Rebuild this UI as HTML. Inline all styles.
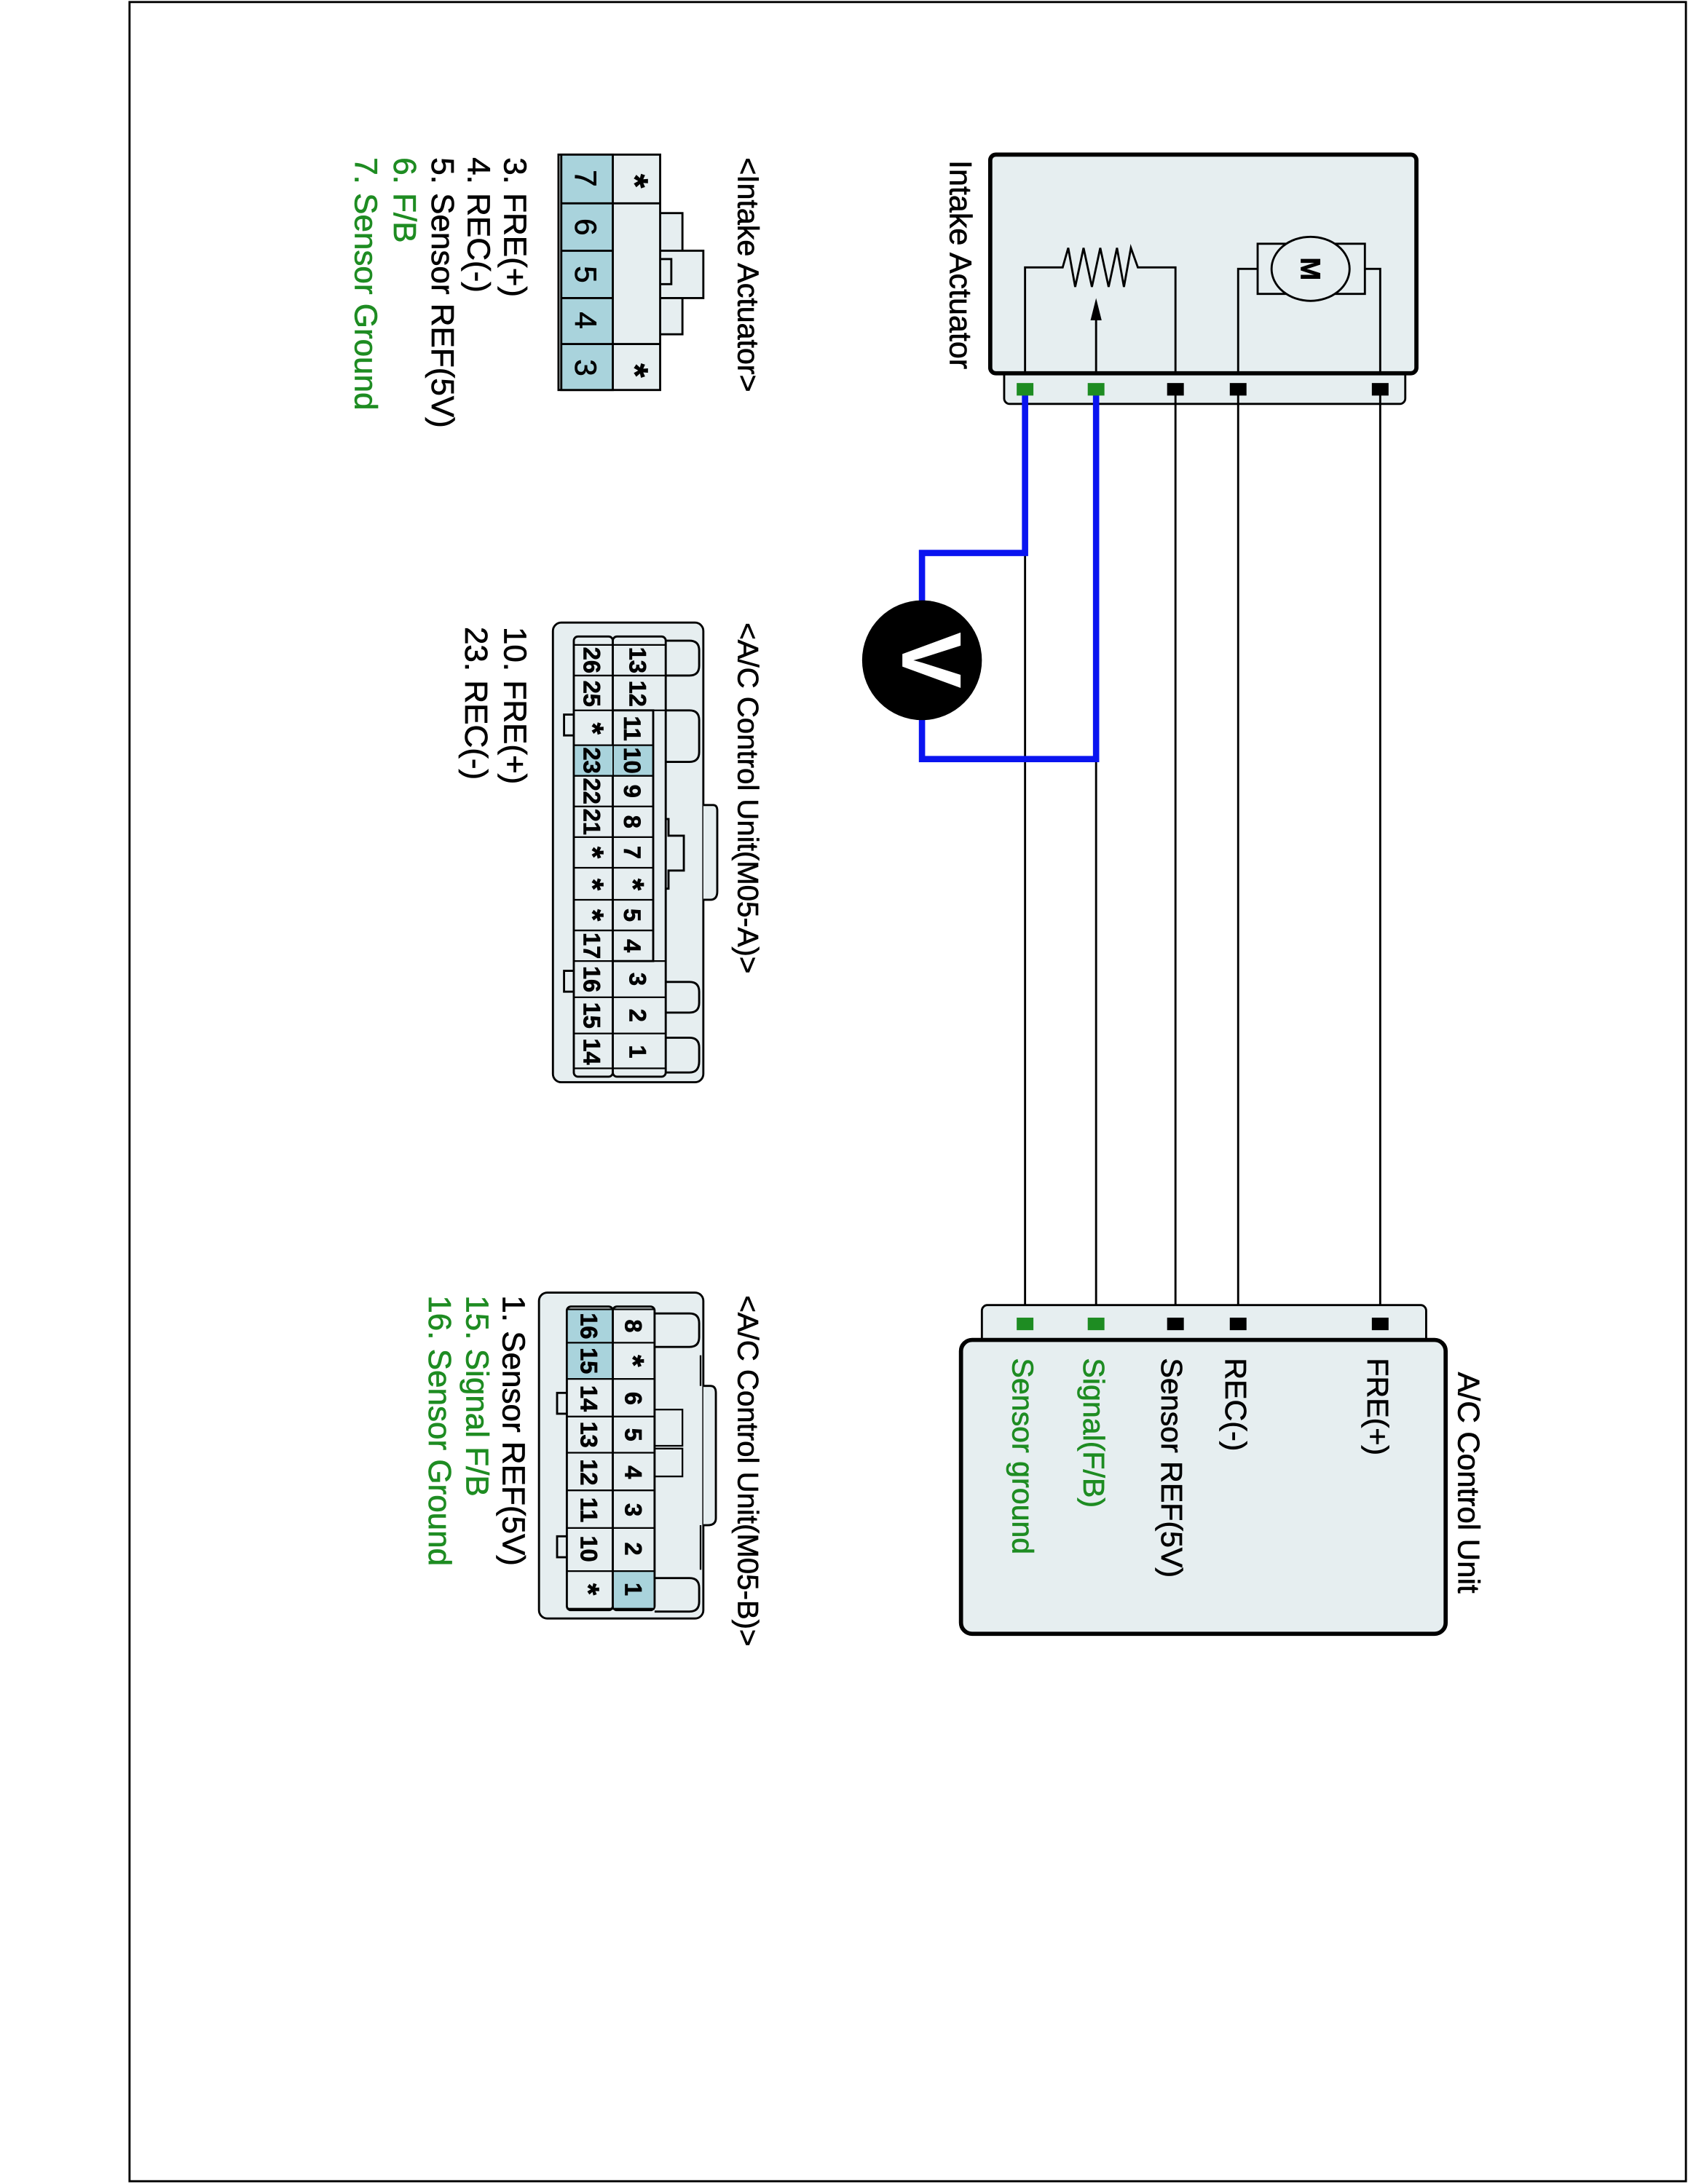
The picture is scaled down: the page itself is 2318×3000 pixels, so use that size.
<!DOCTYPE html>
<html><head><meta charset="utf-8"><style>
html,body{margin:0;padding:0;background:#fff}
svg{display:block}
text{font-family:"Liberation Sans",Arial,sans-serif;stroke:currentColor;stroke-width:0.35}
</style></head><body>
<svg width="2318" height="3000" viewBox="0 0 1212 1568" preserveAspectRatio="none" xmlns="http://www.w3.org/2000/svg" color="#000">
<rect x="0" y="0" width="1212" height="1568" fill="#fff"/>
<path d="M93,1.5 H1210.5 V1566 H93 Z" fill="none" stroke="#000" stroke-width="1.5"/>

<rect x="721" y="262" width="288" height="28" rx="4" fill="#e6eef0" stroke="#000" stroke-width="1.5"/>
<rect x="711" y="111" width="306" height="157" rx="4" fill="#e6eef0" stroke="#000" stroke-width="3"/>
<path d="M736,268 V192 H763 L767,178 L772,206 L778,178 L784,206 L790,178 L796,206 L802,178 L807,206 L812,178 L817,192 H844 V268" fill="none" stroke="#000" stroke-width="1.5"/>
<path d="M787,268 V228" stroke="#000" stroke-width="1.5"/>
<path d="M787,214 L783,230 L791,230 Z" fill="#000"/>
<path d="M889,268 V193 H903 M980,193 H991 V268" fill="none" stroke="#000" stroke-width="1.5"/>
<rect x="903" y="175" width="77" height="36" fill="#e6eef0" stroke="#000" stroke-width="1.5"/>
<ellipse cx="941" cy="193" rx="28" ry="23" fill="#e6eef0" stroke="#000" stroke-width="1.5"/>
<text transform="translate(934,193) rotate(90)" font-size="20" font-weight="bold" text-anchor="middle">M</text>
<text transform="translate(682,115) rotate(90)" font-size="22.5">Intake Actuator</text>

<g stroke="#000" stroke-width="1.5">
<line x1="736" y1="290" x2="736" y2="943"/>
<line x1="787" y1="290" x2="787" y2="943"/>
<line x1="844" y1="283" x2="844" y2="943"/>
<line x1="889" y1="283" x2="889" y2="943"/>
<line x1="991" y1="283" x2="991" y2="943"/>
</g>
<path d="M736,283 V397 H662 V440 M662,510 V545 H787 V283" fill="none" stroke="#0a14f0" stroke-width="4.5"/>
<circle cx="662" cy="474" r="43" fill="#000"/>
<text transform="translate(648,474) rotate(90)" font-size="60" font-weight="bold" fill="#fff" color="#fff" text-anchor="middle">V</text>

<g>
<rect x="730" y="275" width="12" height="9" fill="#1e8c22"/>
<rect x="781" y="275" width="12" height="9" fill="#1e8c22"/>
<rect x="838" y="275" width="12" height="9" fill="#000"/>
<rect x="883" y="275" width="12" height="9" fill="#000"/>
<rect x="985" y="275" width="12" height="9" fill="#000"/>
</g>

<rect x="705" y="937" width="319" height="30" rx="4" fill="#e6eef0" stroke="#000" stroke-width="1.5"/>
<rect x="690" y="962" width="348" height="211" rx="8" fill="#e6eef0" stroke="#000" stroke-width="3"/>
<g>
<rect x="730" y="946" width="12" height="9" fill="#1e8c22"/>
<rect x="781" y="946" width="12" height="9" fill="#1e8c22"/>
<rect x="838" y="946" width="12" height="9" fill="#000"/>
<rect x="883" y="946" width="12" height="9" fill="#000"/>
<rect x="985" y="946" width="12" height="9" fill="#000"/>
</g>
<text transform="translate(1047,985) rotate(90)" font-size="22">A/C Control Unit</text>
<text transform="translate(982,975) rotate(90)" font-size="21.5">FRE(+)</text>
<text transform="translate(880,975) rotate(90)" font-size="21.5">REC(-)</text>
<text transform="translate(834,975) rotate(90)" font-size="21.5">Sensor REF(5V)</text>
<text transform="translate(778,975) rotate(90)" font-size="21.5" fill="#1e8c22" color="#1e8c22">Signal(F/B)</text>
<text transform="translate(727,975) rotate(90)" font-size="21.5" fill="#1e8c22" color="#1e8c22">Sensor ground</text>

<g stroke="#000" stroke-width="1.5" fill="#e6eef0">
<rect x="474" y="153" width="16" height="87"/>
<rect x="474" y="180" width="31" height="34"/>
<rect x="474" y="186" width="8" height="18"/>
<rect x="401" y="111" width="73" height="169"/>
</g>
<g stroke="#000" stroke-width="1.5">
<rect x="403" y="111" width="37" height="169" fill="#a9d3dc"/>
<line x1="403" y1="146" x2="474" y2="146"/>
<line x1="403" y1="180" x2="440" y2="180"/>
<line x1="403" y1="214" x2="440" y2="214"/>
<line x1="403" y1="247" x2="474" y2="247"/>
</g>
<g font-size="22" text-anchor="middle">
<text transform="translate(413,128) rotate(90)">7</text>
<text transform="translate(413,163) rotate(90)">6</text>
<text transform="translate(413,197) rotate(90)">5</text>
<text transform="translate(413,230) rotate(90)">4</text>
<text transform="translate(413,264) rotate(90)">3</text>
<text transform="translate(447,130) rotate(90)" font-weight="bold" font-size="26">*</text>
<text transform="translate(447,266) rotate(90)" font-weight="bold" font-size="26">*</text>
</g>
<text transform="translate(530,113) rotate(90)" font-size="21.5">&lt;Intake Actuator&gt;</text>
<g font-size="23">
<text transform="translate(362,113) rotate(90)">3. FRE(+)</text>
<text transform="translate(336,113) rotate(90)">4. REC(-)</text>
<text transform="translate(310,113) rotate(90)">5. Sensor REF(5V)</text>
<text transform="translate(283,113) rotate(90)" fill="#1e8c22" color="#1e8c22">6. F/B</text>
<text transform="translate(255,113) rotate(90)" fill="#1e8c22" color="#1e8c22">7. Sensor Ground</text>
</g>

<g stroke="#000" stroke-width="1.5" fill="#e6eef0">
<rect x="397" y="447" width="108" height="330" rx="6"/>
<path d="M475,460 H495 Q502,460 502,467 V478 Q502,485 495,485 H478" />
<path d="M475,510 H495 Q502,510 502,517 V540 Q502,547 495,547 H478" />
<path d="M478,705 H495 Q502,705 502,712 V720 Q502,727 495,727 H478" />
<path d="M478,745 H495 Q502,745 502,752 V762 Q502,770 495,770 H478" />
<path d="M505,578 H512 Q515,578 515,582 V640 Q515,646 510,646 H505" />
<path d="M412,513 H405 V528 H412"/>
<path d="M412,697 H405 V712 H412"/>
</g>
<path d="M469,550 V588 H480 V600 H491 V625 H480 V638 H469" fill="none" stroke="#000" stroke-width="1.5"/>
<g stroke="#000" stroke-width="1.5" fill="#e6eef0">
<rect x="412" y="457" width="28" height="316" rx="3"/>
<rect x="440" y="457" width="38" height="316" rx="3"/>
<rect x="440" y="510" width="29" height="180" />
</g>
<rect x="412.75" y="535" width="27" height="22" fill="#a9d3dc"/>
<rect x="440.75" y="535" width="27.5" height="22" fill="#a9d3dc"/>
<g stroke="#000" stroke-width="1.2">
<line x1="412" y1="463" x2="478" y2="463"/>
<line x1="412" y1="767" x2="478" y2="767"/>
<line x1="412" y1="485" x2="478" y2="485"/>
<line x1="412" y1="510" x2="478" y2="510"/>
<line x1="412" y1="535" x2="469" y2="535"/>
<line x1="412" y1="557" x2="469" y2="557"/>
<line x1="412" y1="579" x2="469" y2="579"/>
<line x1="412" y1="601" x2="469" y2="601"/>
<line x1="412" y1="623" x2="469" y2="623"/>
<line x1="412" y1="646" x2="469" y2="646"/>
<line x1="412" y1="668" x2="469" y2="668"/>
<line x1="412" y1="690" x2="478" y2="690"/>
<line x1="412" y1="716" x2="478" y2="716"/>
<line x1="412" y1="742" x2="478" y2="742"/>
</g>
<g font-size="17" text-anchor="middle" font-weight="bold">
<text transform="translate(452,474) rotate(90)">13</text>
<text transform="translate(452,498) rotate(90)">12</text>
<text transform="translate(448,523) rotate(90)">11</text>
<text transform="translate(448,546) rotate(90)">10</text>
<text transform="translate(448,568) rotate(90)">9</text>
<text transform="translate(448,590) rotate(90)">8</text>
<text transform="translate(448,612) rotate(90)">7</text>
<text transform="translate(447,635) rotate(90)" font-size="22">*</text>
<text transform="translate(448,657) rotate(90)">5</text>
<text transform="translate(448,679) rotate(90)">4</text>
<text transform="translate(452,703) rotate(90)">3</text>
<text transform="translate(452,729) rotate(90)">2</text>
<text transform="translate(452,755) rotate(90)">1</text>
<text transform="translate(419,474) rotate(90)">26</text>
<text transform="translate(419,498) rotate(90)">25</text>
<text transform="translate(418,523) rotate(90)" font-size="22">*</text>
<text transform="translate(419,546) rotate(90)">23</text>
<text transform="translate(419,568) rotate(90)">22</text>
<text transform="translate(419,590) rotate(90)">21</text>
<text transform="translate(418,612) rotate(90)" font-size="22">*</text>
<text transform="translate(418,635) rotate(90)" font-size="22">*</text>
<text transform="translate(418,657) rotate(90)" font-size="22">*</text>
<text transform="translate(419,679) rotate(90)">17</text>
<text transform="translate(419,703) rotate(90)">16</text>
<text transform="translate(419,729) rotate(90)">15</text>
<text transform="translate(419,755) rotate(90)">14</text>
</g>
<text transform="translate(530,447) rotate(90)" font-size="21">&lt;A/C Control Unit(M05-A)&gt;</text>
<g font-size="23">
<text transform="translate(362,450) rotate(90)">10. FRE(+)</text>
<text transform="translate(334,450) rotate(90)">23. REC(-)</text>
</g>

<g stroke="#000" stroke-width="1.5" fill="#e6eef0">
<rect x="387" y="928" width="118" height="234" rx="6"/>
<path d="M470,943 H495 Q502,943 502,950 V960 Q502,967 495,967 H470"/>
<path d="M470,1133 H495 Q502,1133 502,1140 V1150 Q502,1157 495,1157 H470"/>
<path d="M505,995 H510 Q514,995 514,1000 V1090 Q514,1095 508,1095 H505"/>
<path d="M407,1000 H400 V1015 H407"/>
<path d="M407,1103 H400 V1118 H407"/>
</g>
<path d="M470,1012 H490 V1038 H470 M470,1040 H490 V1060 H470" fill="none" stroke="#000" stroke-width="1.2"/>
<path d="M503,973 V995 M503,1095 V1127" stroke="#000" stroke-width="1.2"/>
<g stroke="#000" stroke-width="1.5" fill="#e6eef0">
<rect x="407" y="938" width="33" height="218" rx="3"/>
<rect x="440" y="938" width="30" height="218" rx="3"/>
</g>
<rect x="407.75" y="940" width="31.5" height="50" fill="#a9d3dc"/>
<rect x="440.75" y="1128" width="28.5" height="27" fill="#a9d3dc"/>
<g stroke="#000" stroke-width="1.2">
<line x1="407" y1="940" x2="470" y2="940"/>
<line x1="407" y1="1155" x2="470" y2="1155"/>
<line x1="407" y1="964" x2="470" y2="964"/>
<line x1="407" y1="990" x2="470" y2="990"/>
<line x1="407" y1="1017" x2="470" y2="1017"/>
<line x1="407" y1="1043" x2="470" y2="1043"/>
<line x1="407" y1="1070" x2="470" y2="1070"/>
<line x1="407" y1="1097" x2="470" y2="1097"/>
<line x1="407" y1="1128" x2="470" y2="1128"/>
</g>
<g font-size="17" text-anchor="middle" font-weight="bold">
<text transform="translate(449,952) rotate(90)">8</text>
<text transform="translate(447,977) rotate(90)" font-size="22">*</text>
<text transform="translate(449,1004) rotate(90)">6</text>
<text transform="translate(449,1030) rotate(90)">5</text>
<text transform="translate(449,1057) rotate(90)">4</text>
<text transform="translate(449,1084) rotate(90)">3</text>
<text transform="translate(449,1112) rotate(90)">2</text>
<text transform="translate(449,1141) rotate(90)">1</text>
<text transform="translate(417,952) rotate(90)">16</text>
<text transform="translate(417,977) rotate(90)">15</text>
<text transform="translate(417,1004) rotate(90)">14</text>
<text transform="translate(417,1030) rotate(90)">13</text>
<text transform="translate(417,1057) rotate(90)">12</text>
<text transform="translate(417,1084) rotate(90)">11</text>
<text transform="translate(417,1112) rotate(90)">10</text>
<text transform="translate(415,1141) rotate(90)" font-size="22">*</text>
</g>
<text transform="translate(530,930) rotate(90)" font-size="21">&lt;A/C Control Unit(M05-B)&gt;</text>
<g font-size="23">
<text transform="translate(361,930) rotate(90)">1. Sensor REF(5V)</text>
<text transform="translate(335,930) rotate(90)" fill="#1e8c22" color="#1e8c22">15. Signal F/B</text>
<text transform="translate(308,930) rotate(90)" fill="#1e8c22" color="#1e8c22">16. Sensor Ground</text>
</g>
</svg>
</body></html>
